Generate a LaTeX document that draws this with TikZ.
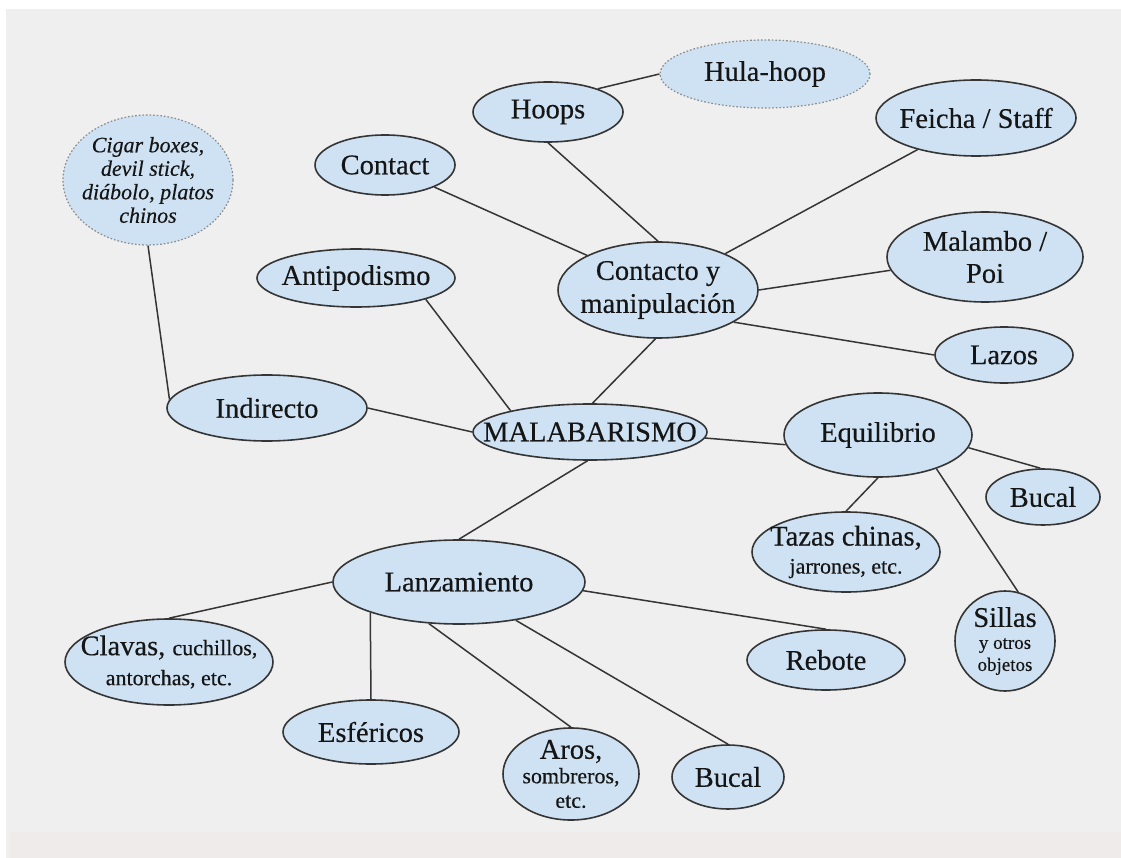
\documentclass[tikz,border=0pt]{standalone}
\usepackage{fontspec}
\setmainfont{Liberation Serif}[FakeBold=0.35]
\usetikzlibrary{shapes.geometric}
\definecolor{bgc}{HTML}{EFEFEF}
\definecolor{bandc}{HTML}{EFEBEB}
\definecolor{fillc}{HTML}{CFE2F3}
\definecolor{edgec}{HTML}{353535}
\definecolor{dotc}{HTML}{8A8A8A}
\definecolor{txtc}{HTML}{151515}
\newcommand\bigf{\fontsize{28.5}{31}\selectfont}
\newcommand\smf{\fontsize{22}{24}\selectfont}
\begin{document}
\begin{tikzpicture}[x=1pt,y=-1pt,
  blob/.style={ellipse, draw=edgec, line width=1.6pt, fill=fillc, inner sep=-80pt,
    text=txtc, font=\bigf, align=center},
  dotblob/.style={blob, draw=dotc, dotted, line width=1.2pt},
  link/.style={draw=edgec, line width=1.5pt}]
\useasboundingbox (0,0) rectangle (1121,858);
\fill[white] (0,0) rectangle (1121,858);
\fill[bgc] (6,9) rectangle (1121,858);
\fill[bandc] (10,832) rectangle (1121,858);

% nodes
\node[dotblob, minimum width=170pt, minimum height=130pt,
  font=\fontsize{22}{23.5}\selectfont\itshape] (cig) at (148,180)
  {Cigar boxes,\\devil stick,\\diábolo, platos\\chinos};
\node[dotblob, minimum width=210pt, minimum height=68pt] (hula) at (765,74) {Hula-hoop};
\node[blob, minimum width=150pt, minimum height=60pt] (hoops) at (548,112) {Hoops};
\node[blob, minimum width=140pt, minimum height=60pt] (contact) at (385,165) {Contact};
\node[blob, minimum width=200pt, minimum height=76pt] (feicha) at (976,118) {Feicha / Staff};
\node[blob, minimum width=196pt, minimum height=90pt,
  font=\fontsize{28.5}{32}\selectfont] (malambo) at (985,257) {Malambo /\\Poi};
\node[blob, minimum width=138pt, minimum height=56pt] (lazos) at (1004,355) {Lazos};
\node[blob, minimum width=200pt, minimum height=96pt,
  font=\fontsize{28.5}{33}\selectfont] (cont) at (658,290) {Contacto y\\manipulación};
\node[blob, minimum width=198pt, minimum height=58pt] (anti) at (356,278) {Antipodismo};
\node[blob, minimum width=200pt, minimum height=66pt] (ind) at (267,408) {Indirecto};
\node[blob, minimum width=234pt, minimum height=56pt] (mal) at (590,432) {MALABARISMO};
\node[blob, minimum width=188pt, minimum height=84pt] (eq) at (878,435) {Equilibrio};
\node[blob, minimum width=114pt, minimum height=56pt] (bucalA) at (1043,497) {Bucal};
\node[blob, minimum width=188pt, minimum height=80pt,
  font=\fontsize{28.5}{28}\selectfont] (tazas) at (846,552) {Tazas chinas,\\{\smf jarrones, etc.}};
\node[blob, minimum width=100pt, minimum height=100pt,
  font=\fontsize{19}{22}\selectfont] (sillas) at (1005,641) {{\bigf Sillas}\\y otros\\objetos};
\node[blob, minimum width=252pt, minimum height=84pt] (lanz) at (459,582) {Lanzamiento};
\node[blob, minimum width=208pt, minimum height=86pt,
  font=\fontsize{28.5}{30}\selectfont] (clavas) at (169,662) {Clavas, {\smf cuchillos,}\\{\smf antorchas, etc.}};
\node[blob, minimum width=176pt, minimum height=64pt] (esf) at (371,732) {Esféricos};
\node[blob, minimum width=136pt, minimum height=92pt,
  font=\fontsize{22}{24.5}\selectfont] (aros) at (571,774) {{\bigf Aros,}\\sombreros,\\etc.};
\node[blob, minimum width=112pt, minimum height=64pt] (bucalB) at (728,777) {Bucal};
\node[blob, minimum width=158pt, minimum height=60pt] (reb) at (826,660) {Rebote};

% connectors
\draw[link] (cig.south) -- (ind.175);
\draw[link] (ind.east) -- (mal.west);
\draw[link] (anti.-17) -- (mal.165);
\draw[link] (mal.85) -- (cont.-93);
\draw[link] (contact) -- (cont.154);
\draw[link] (hoops.south) -- (cont.north);
\draw[link] (hoops.25) -- (hula.west);
\draw[link] (cont) -- (feicha);
\draw[link] (cont.east) -- (malambo.188);
\draw[link] (cont.-23) -- (lazos.west);
\draw[link] (mal.-3) -- (eq.186);
\draw[link] (eq.-8) -- (bucalA.95);
\draw[link] (eq.south) -- (tazas.north);
\draw[link] (eq.-30) -- (sillas.75);
\draw[link] (mal.-95) -- (lanz.north);
\draw[link] (lanz.west) -- (clavas.north);
\draw[link] (lanz.-161) -- (esf.north);
\draw[link] (lanz.-126) -- (aros.north);
\draw[link] (lanz.-34) -- (bucalB.north);
\draw[link] (lanz.-4) -- (reb.north);
\end{tikzpicture}
\end{document}
